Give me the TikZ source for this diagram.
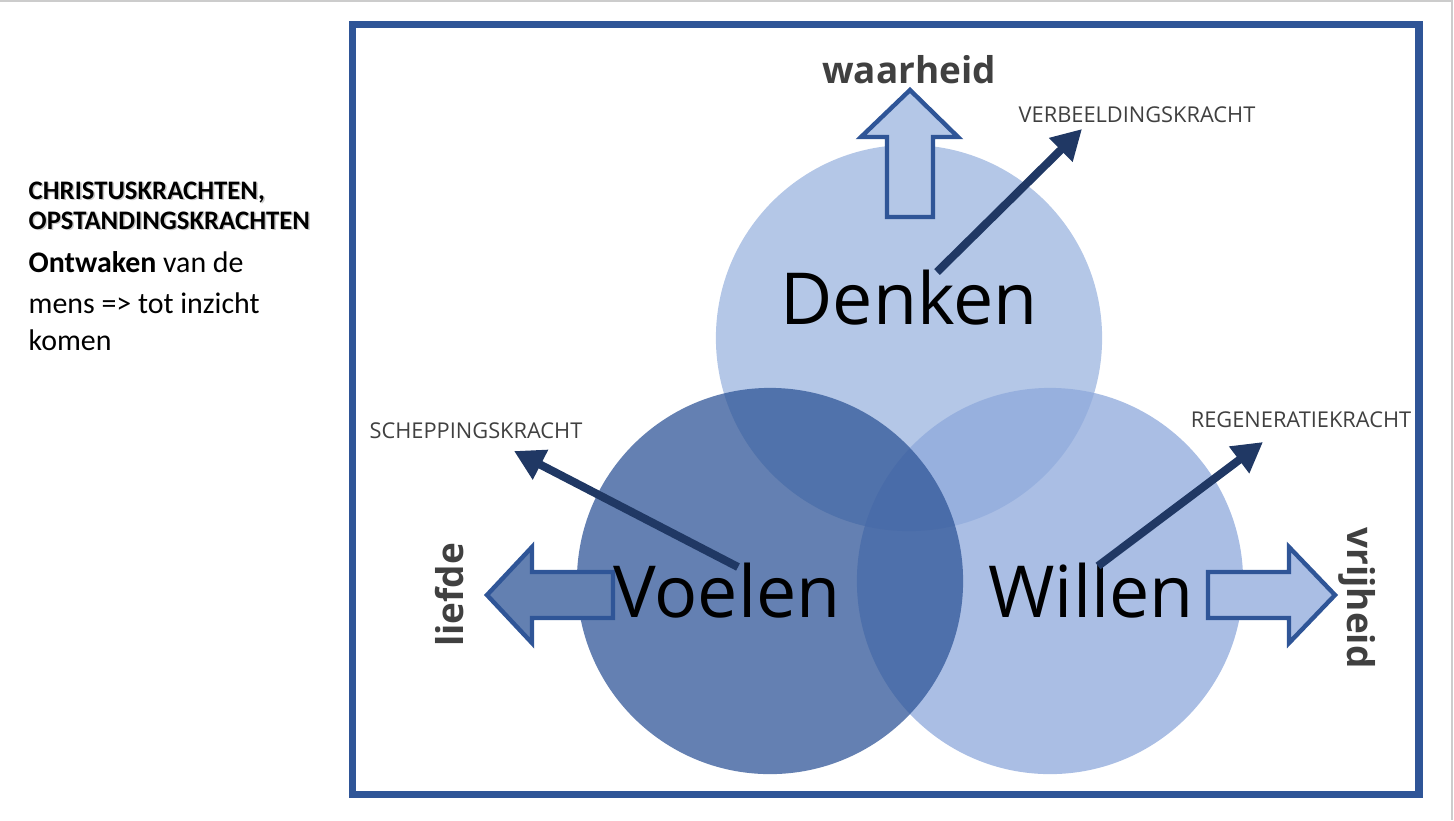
\documentclass[tikz,border=0pt]{standalone}
\usepackage{fontspec}
\setmainfont{Open Sans}
\newfontfamily\calfont{Carlito}
\usetikzlibrary{arrows.meta}
\definecolor{kader}{HTML}{2F5597}
\definecolor{denkblauw}{HTML}{B4C7E7}
\definecolor{wilblauw}{HTML}{8FAADC}
\definecolor{pijlblauw}{HTML}{203864}
\definecolor{tekstgrijs}{HTML}{404040}

\begin{document}
\begin{tikzpicture}[x=0.01cm, y=-0.01cm,
  kracht/.style={draw=pijlblauw, line width=2.3pt, -{Triangle[length=8.5pt,width=9pt]}},
  krachttekst/.style={text=tekstgrijs, font=\fontsize{6.2}{7.5}\selectfont, anchor=base, inner sep=0pt},
  woord/.style={font=\fontsize{20.4}{24}\selectfont, anchor=base, inner sep=0pt},
  richting/.style={text=tekstgrijs, font=\bfseries\fontsize{10.5}{12}\selectfont, anchor=base, inner sep=0pt},
  blokpijl/.style={draw=kader, line width=1.25pt, line join=miter},
  titel/.style={anchor=base west, inner sep=0pt, font=\calfont\bfseries\fontsize{7.6}{9}\selectfont},
  regel/.style={anchor=base west, inner sep=0pt, font=\calfont\fontsize{8.5}{10}\selectfont}]
\useasboundingbox (0,0) rectangle (1454,820);
\draw[black!20, line width=0.6pt] (0,1) -- (1452,1) -- (1452,820); % rand dia

% de drie cirkels
\fill[denkblauw] (909,338) circle (1.93cm); % denken
\fill[wilblauw, fill opacity=0.76] (1050,581) circle (1.93cm); % willen
\fill[kader, fill opacity=0.745] (770,581) circle (1.93cm); % voelen

% kader
\draw[kader, line width=2pt] (352.5,24.5) rectangle (1419,794);

% blokpijlen
\filldraw[blokpijl, fill=denkblauw] (887,217) -- (887,137) -- (861,137) -- (910,90) -- (958,137) -- (933,137) -- (933,217) --cycle; % waarheid
\filldraw[blokpijl, fill=kader!75!white] (613,572) -- (532,572) -- (532,547) -- (487,595) -- (532,643) -- (532,618) -- (613,618) --cycle; % liefde
\filldraw[blokpijl, fill=wilblauw!76!white] (1208,572) -- (1289,572) -- (1289,547) -- (1335,595) -- (1289,643) -- (1289,618) -- (1208,618) --cycle; % vrijheid

% woorden in de cirkels
\node[woord] (denken) at (909,324) {Denken};
\node[woord] (voelen) at (727,617) {Voelen};
\node[woord] (willen) at (1091,617) {Willen};

% krachten
\coordinate (denkstart) at (937,272);
\coordinate (denktip) at (1082,129);
\coordinate (voelstart) at (738,567);
\coordinate (voeltip) at (514,451);
\coordinate (wilstart) at (1098,566);
\coordinate (wiltip) at (1263,442);
\draw[kracht] (denkstart) -- (denktip);
\draw[kracht] (voelstart) -- (voeltip);
\draw[kracht] (wilstart) -- (wiltip);
\node[krachttekst] (verbeelding) at (1137,122) {VERBEELDINGSKRACHT};
\node[krachttekst] (schepping) at (476,438) {SCHEPPINGSKRACHT};
\node[krachttekst] (regeneratie) at (1301,427) {REGENERATIEKRACHT};

% richtingen
\node[richting] (waarheid) at (909,83) {waarheid};
\node[richting, rotate=90] (liefde) at (463,595) {liefde};
\node[richting, rotate=-90] (vrijheid) at (1347,598) {vrijheid};

% tekst links
\node[titel, text=black!30, opacity=0.7] (schaduw1) at (29.5,200.5) {CHRISTUSKRACHTEN,};
\node[titel, text=black!30, opacity=0.7] (schaduw2) at (29.5,230.5) {OPSTANDINGSKRACHTEN};
\node[titel] (titel1) at (28,199) {CHRISTUSKRACHTEN,};
\node[titel] (titel2) at (28,229) {OPSTANDINGSKRACHTEN};
\node[regel] (regel1) at (28,272) {\textbf{Ontwaken} van de};
\node[regel] (regel2) at (28,313) {mens => tot inzicht};
\node[regel] (regel3) at (28,350) {komen};
\end{tikzpicture}
\end{document}
